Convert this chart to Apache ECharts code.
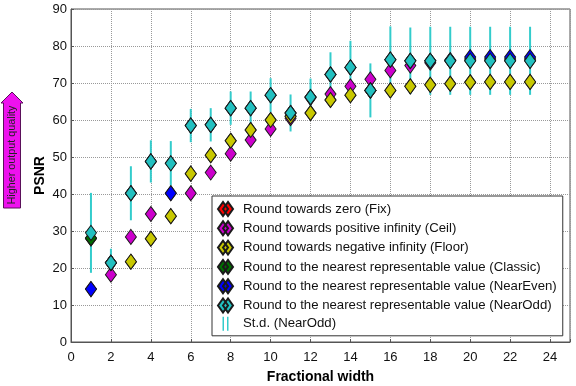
<!DOCTYPE html>
<html>
<head>
<meta charset="utf-8">
<script src="https://cdn.jsdelivr.net/npm/echarts@6/dist/echarts.min.js"></script>
<style>
  html, body { margin: 0; padding: 0; background: #fff; }
  #main { width: 576px; height: 386px; }
</style>
</head>
<body>
<div id="main"></div>
<script>
// fractional width (x) and PSNR per rounding mode
var widths = [1, 2, 3, 4, 5, 6, 7, 8, 9, 10, 11, 12, 13, 14, 15, 16, 17, 18, 19, 20, 21, 22, 23];
var fixVals = [28, 21.4, 21.7, 27.9, 34, 45.5, 50.5, 54.4, 57.3, 60, 61, 61.9, 65.4, 66.7, 68, 68, 69.1, 69.5, 69.8, 70.2, 70.3, 70.3, 70.3];
var ceilVals = [14.3, 18.2, 28.4, 34.6, 40.2, 40.2, 45.8, 50.9, 54.6, 57.6, 60.5, 66, 67, 69.1, 71, 73.4, 74.7, 75.5, 76, 76.5, 76.5, 76.5, 76.5];
var floorVals = [28, 21.4, 21.7, 27.9, 34, 45.5, 50.5, 54.4, 57.3, 60, 61, 61.9, 65.4, 66.7, 68, 68, 69.1, 69.5, 69.8, 70.2, 70.3, 70.3, 70.3];
var classicVals = [28.1, 21.4, 40.2, 48.8, 48.3, 58.5, 58.7, 63.2, 63.2, 66.7, 61.9, 66.2, 72.3, 74.2, 68, 76.3, 76, 76, 76, 76, 76, 76, 76];
var nearEvenVals = [14.3, 21.4, 40.2, 48.8, 40.2, 58.5, 58.7, 63.2, 63.2, 66.7, 61.9, 66.2, 72.3, 74.2, 68, 76.3, 76, 76, 76.2, 77, 77, 77, 77];
var nearOddVals = [29.5, 21.4, 40.2, 48.8, 48.3, 58.5, 58.7, 63.2, 63.2, 66.7, 61.9, 66.2, 72.3, 74.2, 68, 76.3, 76, 76, 76, 76, 76, 76, 76];
var nearOddStd = [10.8, 3.8, 7.3, 5.7, 6, 4.5, 4.5, 4.5, 4.5, 4.6, 5, 5, 6, 7.2, 7.3, 9, 9, 9.2, 9.2, 9.2, 9.2, 9.2, 9.2];

var names = [
    'Round towards zero (Fix)',
    'Round towards positive infinity (Ceil)',
    'Round towards negative infinity (Floor)',
    'Round to the nearest representable value (Classic)',
    'Round to the nearest representable value (NearEven)',
    'Round to the nearest representable value (NearOdd)'
];
var stdName = 'St.d. (NearOdd)';
var colors = ['#ff0000', '#cc00cc', '#c8c800', '#007000', '#0000ff', '#22c0c0'];
var allVals = [fixVals, ceilVals, floorVals, classicVals, nearEvenVals, nearOddVals];

var diamondIcon = 'path://M0,7 L5,0 L10,7 L5,14 Z M5,7 L10,0 L15,7 L10,14 Z';
var barsIcon = 'path://M0,0 M4.5,0 L6,0 L6,14 L4.5,14 Z M9,0 L10.5,0 L10.5,14 L9,14 Z M15,14';

var series = [];

// error bars first so the diamonds sit on top
series.push({
    name: stdName,
    type: 'custom',
    z: 1,
    itemStyle: { color: '#33cccc' },
    data: widths.map(function (w, i) {
        return [w, nearOddVals[i] - nearOddStd[i], nearOddVals[i] + nearOddStd[i]];
    }),
    encode: { x: 0, y: [1, 2] },
    renderItem: function (params, api) {
        var lo = api.coord([api.value(0), api.value(1)]);
        var hi = api.coord([api.value(0), api.value(2)]);
        return {
            type: 'line',
            shape: { x1: lo[0], y1: lo[1], x2: hi[0], y2: hi[1] },
            style: { stroke: '#33cccc', lineWidth: 2 }
        };
    }
});

for (var k = 0; k < names.length; k++) {
    series.push({
        name: names[k],
        type: 'scatter',
        z: 2 + k,
        symbol: 'diamond',
        symbolSize: [11, 15],
        itemStyle: {
            color: colors[k],
            borderColor: '#1a1a1a',
            borderWidth: 1,
            opacity: 1
        },
        data: widths.map(function (w, i) { return [w, allVals[k][i]]; })
    });
}

var legendData = names.map(function (n) { return { name: n, icon: diamondIcon }; });
legendData.push({ name: stdName, icon: barsIcon });

var chart = echarts.init(document.getElementById('main'));
chart.setOption({
    animation: false,
    textStyle: { fontFamily: 'Liberation Sans' },
    grid: {
        left: 71,
        right: 6,
        top: 9,
        bottom: 44,
        outerBoundsMode: 'none',
        show: true,
        borderColor: '#555',
        borderWidth: 1
    },
    legend: {
        data: legendData,
        orient: 'vertical',
        left: 212,
        top: 196,
        padding: [5, 6, 5, 5],
        itemWidth: 15,
        itemHeight: 14,
        itemGap: 3.3,
        backgroundColor: '#fff',
        borderColor: '#333',
        borderWidth: 1,
        selectedMode: false,
        textStyle: {
            fontFamily: 'Liberation Sans',
            fontSize: 13.2,
            color: '#111',
            padding: [0, 0, 0, 5]
        }
    },
    xAxis: {
        type: 'value',
        min: 0,
        max: 25,
        interval: 2,
        name: 'Fractional width',
        nameLocation: 'middle',
        nameGap: 28,
        nameMoveOverlap: false,
        nameTextStyle: { fontSize: 14, fontWeight: 'bold', color: '#000' },
        axisLine: { lineStyle: { color: '#555' } },
        axisTick: { inside: true, length: 3, lineStyle: { color: '#555' } },
        axisLabel: {
            fontSize: 13,
            color: '#111',
            margin: 9,
            formatter: function (v) { return v > 24 ? '' : v; }
        },
        splitLine: { lineStyle: { type: 'dotted', color: '#999' } }
    },
    yAxis: {
        type: 'value',
        min: 0,
        max: 90,
        interval: 10,
        name: 'PSNR',
        nameLocation: 'middle',
        nameGap: 24,
        nameMoveOverlap: false,
        nameTextStyle: { fontSize: 14, fontWeight: 'bold', color: '#000' },
        axisLine: { show: true, lineStyle: { color: '#555' } },
        axisTick: { show: true, inside: true, length: 3, lineStyle: { color: '#555' } },
        axisLabel: { fontSize: 13, color: '#111', margin: 4 },
        splitLine: { lineStyle: { type: 'dotted', color: '#999' } }
    },
    graphic: [
        {
            type: 'polygon',
            shape: {
                points: [[12, 92], [23, 103], [20.5, 103], [20.5, 208], [3.5, 208], [3.5, 103], [1, 103]]
            },
            style: { fill: '#ee11ee', stroke: '#5a105a', lineWidth: 1 }
        },
        {
            type: 'text',
            x: 12,
            y: 155,
            rotation: Math.PI / 2,
            style: {
                text: 'Higher output quality',
                fontFamily: 'Liberation Sans',
                fontSize: 10.8,
                fill: '#222',
                align: 'center',
                verticalAlign: 'middle'
            }
        }
    ],
    series: series
});
</script>
</body>
</html>
